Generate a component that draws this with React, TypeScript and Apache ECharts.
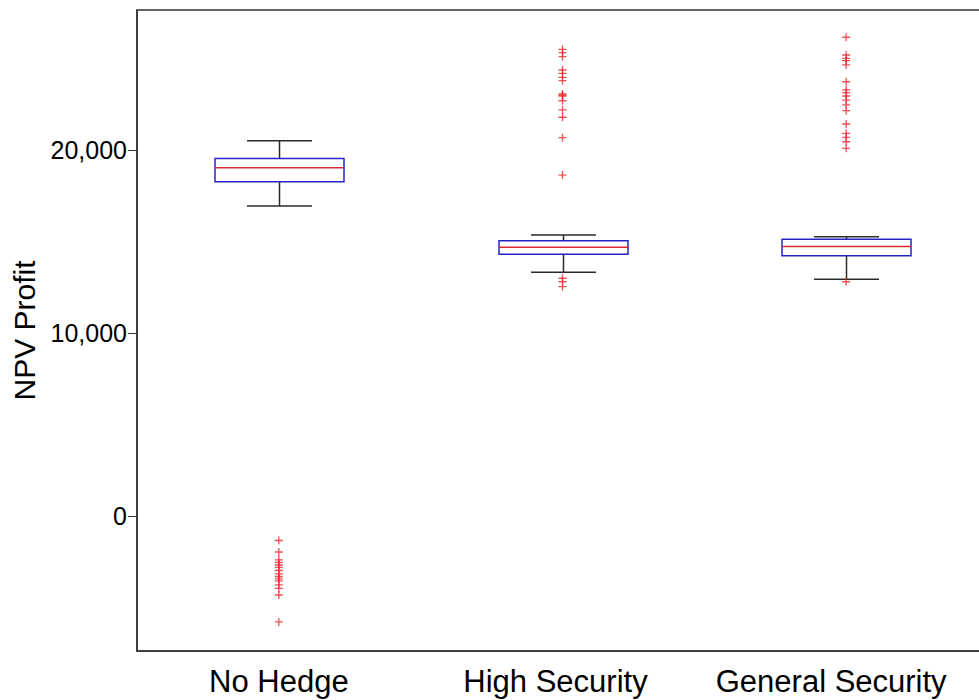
import React, { useEffect, useRef } from "react";
import * as echarts from "echarts";

const categories = ["No Hedge", "High Security", "General Security"];
// [lower whisker, Q1, median, Q3, upper whisker]
const noHedgeBox = [16940, 18270, 19030, 19530, 20510];
const highSecurityBox = [13320, 14300, 14680, 15040, 15360];
const generalSecurityBox = [12930, 14220, 14720, 15120, 15260];
const noHedgeOutliers = [-1340, -1970, -2400, -2540, -2680, -2810, -2980, -3170, -3310, -3440, -3550, -3770, -3960, -4320, -5790];
const highSecurityOutliers = [25500, 25320, 25100, 24370, 24190, 23970, 23790, 23060, 23000, 22950, 22690, 22190, 21790, 20670, 18630, 12990, 12800, 12530];
const generalSecurityOutliers = [26160, 25190, 25010, 24880, 24650, 23730, 23280, 23130, 22950, 22730, 22460, 22150, 21420, 20910, 20690, 20450, 20090, 12800];
const yTickValues = [0, 10000, 20000];
const yMin = -7380;
const yMax = 27650;

const FONT = "Liberation Sans";
const BLUE = "#2424c8";
const RED = "#dc2a30";
const BLACK = "#2a2a2a";

export default function App() {
  const ref = useRef<HTMLDivElement>(null);
  useEffect(() => {
    if (!ref.current) return;
    const chart = echarts.init(ref.current, null, { renderer: "svg" });
    const boxes = [noHedgeBox, highSecurityBox, generalSecurityBox];
    const boxData = boxes.map((b, i) => [i, ...b]);
    const outliers = [noHedgeOutliers, highSecurityOutliers, generalSecurityOutliers];
    const outlierData: number[][] = [];
    outliers.forEach((arr, i) => arr.forEach((v) => outlierData.push([i, v])));

    const renderItem = (_params: any, api: any) => {
      const x = api.value(0);
      const lo = api.coord([x, api.value(1)]);
      const q1 = api.coord([x, api.value(2)]);
      const med = api.coord([x, api.value(3)]);
      const q3 = api.coord([x, api.value(4)]);
      const hi = api.coord([x, api.value(5)]);
      const cx = Math.round(lo[0]) + 0.5;
      const bw = 129;
      const cw = 65;
      const ls = { stroke: BLACK, lineWidth: 1.5 };
      return {
        type: "group",
        children: [
          { type: "line", shape: { x1: cx, y1: q3[1], x2: cx, y2: hi[1] }, style: ls },
          { type: "line", shape: { x1: cx, y1: q1[1], x2: cx, y2: lo[1] }, style: ls },
          { type: "line", shape: { x1: cx - cw / 2, y1: hi[1], x2: cx + cw / 2, y2: hi[1] }, style: ls },
          { type: "line", shape: { x1: cx - cw / 2, y1: lo[1], x2: cx + cw / 2, y2: lo[1] }, style: ls },
          {
            type: "rect",
            shape: { x: cx - bw / 2, y: q3[1], width: bw, height: q1[1] - q3[1] },
            style: { fill: "#ffffff", stroke: BLUE, lineWidth: 1.5 },
          },
          {
            type: "line",
            shape: { x1: cx - bw / 2, y1: med[1], x2: cx + bw / 2, y2: med[1] },
            style: { stroke: RED, lineWidth: 1.5 },
          },
        ],
      };
    };

    const labelStyle = { color: "#000000", fontSize: 31, fontFamily: FONT };

    chart.setOption({
      animation: false,
      backgroundColor: "#ffffff",
      grid: {
        left: 137,
        right: -9,
        top: 10,
        bottom: 49,
        show: true,
        borderColor: "#333333",
        borderWidth: 1.5,
        containLabel: false,
        outerBoundsMode: "none",
      },
      xAxis: {
        type: "category",
        data: categories,
        boundaryGap: true,
        axisLine: { show: true, onZero: false, lineStyle: { color: "#333333", width: 1.5 } },
        axisTick: { show: false },
        axisLabel: {
          ...labelStyle,
          margin: 15,
          interval: 0,
          hideOverlap: false,
          formatter: (v: string, i: number) => (i === 0 ? `{a|${v}}` : i === 1 ? `{b|${v}}` : `{c|${v}}`),
          rich: {
            a: { ...labelStyle, padding: [0, 0, 0, 0] },
            b: { ...labelStyle, padding: [0, 14, 0, 0] },
            c: { ...labelStyle, padding: [0, 30, 0, 0] },
          },
        },
        splitLine: { show: false },
      },
      yAxis: {
        type: "value",
        min: yMin,
        max: yMax,
        name: "NPV Profit",
        nameLocation: "middle",
        nameGap: 97,
        nameTextStyle: { color: "#000000", fontSize: 30, fontFamily: FONT },
        axisLine: { show: true, onZero: false, lineStyle: { color: "#333333", width: 1.5 } },
        axisTick: { show: true, inside: false, length: 9, customValues: yTickValues, lineStyle: { color: "#333333" } },
        axisLabel: {
          color: "#000000",
          fontSize: 25,
          fontFamily: FONT,
          margin: 10,
          customValues: yTickValues,
          formatter: (v: number) => v.toLocaleString("en-US"),
        },
        splitLine: { show: false },
      },
      series: [
        {
          type: "custom",
          renderItem,
          data: boxData,
          encode: { x: 0, y: [1, 2, 3, 4, 5] },
          z: 2,
        },
        {
          type: "scatter",
          data: outlierData,
          symbol: "path://M0,4L8,4M4,0L4,8",
          symbolSize: 8,
          itemStyle: { color: "rgba(0,0,0,0)", borderColor: "#e8262c", borderWidth: 1.3 },
          z: 3,
        },
      ],
    });
    return () => chart.dispose();
  }, []);
  return (
    <div
      ref={ref}
      style={{ position: "absolute", left: 0, top: 0, width: 979, height: 700, background: "#fff" }}
    />
  );
}
